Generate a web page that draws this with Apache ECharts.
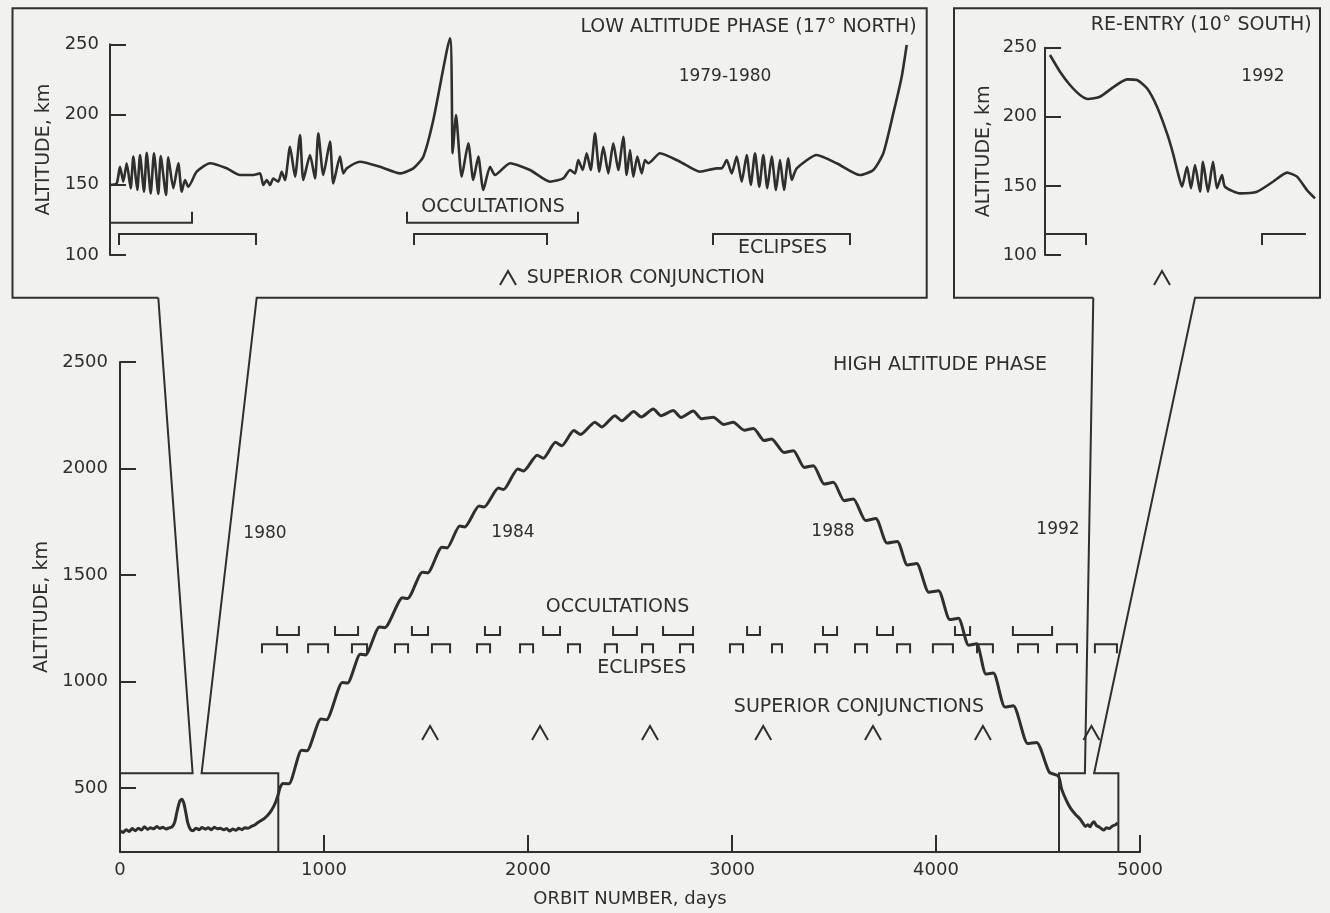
<!DOCTYPE html>
<html>
<head>
<meta charset="utf-8">
<script src="https://cdn.jsdelivr.net/npm/echarts@6/dist/echarts.min.js"></script>
<style>
html,body{margin:0;padding:0;background:#f1f1ef;}
#c{width:1330px;height:913px;}
</style>
</head>
<body>
<div id="c"></div>
<script>
// ---------------- DATA ----------------
const xTickLabels = [0, 1000, 2000, 3000, 4000, 5000];
const xTickMarks = [1000, 2000, 3000, 4000, 5000];
const yTickLabels = [500, 1000, 1500, 2000, 2500];

// main chart: [orbit number, altitude km]
const lowPhase = [[0,300],[15,292],[30,305],[45,296],[60,310],[75,300],[90,312],[105,303],[120,318],[135,306],[150,314],[165,309],[180,320],[195,310],[210,316],[225,308],[240,313],[255,318],[268,340],[280,392],[292,436],[302,448],[312,432],[322,388],[332,338],[345,306],[358,300],[372,312],[388,305],[402,315],[418,307],[432,314],[448,305],[462,316],[478,309],[492,312],[508,304],[522,310],[538,298],[552,308],[568,302],[582,311],[598,305],[612,314],[628,312],[644,320],[660,327],[676,338],[692,348],[708,358],[724,372],[740,392],[754,415],[766,442],[776,472]];
const highPhase = [[786,506],[800,522],[828,520],[890,678],[916,675],[985,824],[1012,821],[1090,996],[1115,993],[1178,1128],[1203,1125],[1272,1256],[1298,1253],[1385,1393],[1410,1390],[1482,1513],[1508,1510],[1578,1631],[1603,1627],[1665,1730],[1690,1726],[1760,1824],[1785,1819],[1855,1908],[1880,1901],[1950,1998],[1978,1988],[2045,2062],[2075,2048],[2135,2123],[2165,2107],[2225,2178],[2258,2160],[2328,2217],[2362,2195],[2426,2248],[2460,2224],[2518,2268],[2555,2242],[2614,2279],[2652,2248],[2712,2272],[2750,2240],[2810,2270],[2850,2234],[2908,2241],[2960,2207],[3006,2217],[3060,2180],[3105,2188],[3158,2131],[3194,2139],[3255,2075],[3301,2084],[3355,2005],[3399,2013],[3452,1927],[3497,1935],[3550,1849],[3595,1857],[3655,1756],[3705,1765],[3760,1650],[3810,1658],[3860,1547],[3905,1554],[3965,1419],[4012,1426],[4068,1291],[4110,1297],[4160,1171],[4199,1177],[4245,1035],[4281,1040],[4338,881],[4379,886],[4450,709],[4493,714],[4555,575],[4600,556]];
const reentryPhase = [[4616,495],[4640,440],[4660,405],[4685,375],[4706,355],[4720,335],[4732,320],[4745,328],[4755,318],[4765,334],[4775,342],[4785,326],[4798,318],[4810,310],[4822,303],[4835,314],[4850,310],[4865,322],[4880,328],[4890,337]];

const occultations = [[770,877],[1054,1167],[1431,1510],[1789,1863],[2074,2157],[2417,2534],[2662,2809],[3074,3137],[3446,3515],[3711,3789],[4093,4167],[4377,4569]];
const eclipses = [[696,819],[922,1020],[1137,1211],[1348,1412],[1529,1618],[1750,1814],[1961,2025],[2196,2255],[2377,2436],[2559,2613],[2745,2809],[2990,3054],[3196,3245],[3407,3466],[3603,3662],[3809,3873],[3985,4083],[4201,4279],[4402,4500],[4593,4691],[4779,4887]];
const superiorConjunctions = [1520, 2059, 2598, 3153, 3691, 4230, 4762];

// inset 1 (low altitude phase 1979-1980): [orbit, altitude km]
const lowInset = [[0,149.8],[6.7,151],[10,162.8],[13.3,152.2],[16.7,165.3],[20.7,147.5],[23.3,170],[27.3,146.3],[30,171.2],[34,145.1],[36.7,172.8],[40.7,143.9],[44,172.4],[48.3,143.4],[50.7,170.5],[56,142.7],[58.3,169.5],[63.3,147.5],[68.3,165.3],[71.7,145.1],[75,153.4],[78.3,148.6],[86.7,159.3],[100,165.3],[116.7,161.7],[130,156.9],[143.3,156.9],[150,158.1],[153.3,149.8],[156.7,153.4],[160,149.8],[163.3,154.5],[168.3,152.2],[171.7,159.3],[175,153.4],[180,177.1],[185,155.7],[190,185.4],[193.3,153.4],[200,171.2],[205,154.5],[208.3,186.6],[213.3,156.9],[220,180.7],[223.3,151],[230,170],[233.3,158.1],[236.7,161.7],[250,166.4],[270,162.8],[290,158.1],[303.3,161.7],[313.3,170],[323.3,196.1],[340,254.2],[342.7,172.4],[346,199.6],[351.7,155.7],[358.3,179.5],[363.3,153.4],[368.3,170],[373.3,146.3],[380,162.8],[385,156.9],[400,165.3],[420,160.5],[440,152.2],[453.3,154.5],[460,160.5],[465,158.1],[468.3,167.6],[472.7,160.5],[476.7,172.4],[480.7,160.5],[485,186.6],[489.3,159.3],[493.3,177.1],[498.3,158.1],[503.3,179.5],[508.3,160.5],[513.3,184.2],[516.7,156.9],[520,174.7],[523.3,155.7],[527.3,170],[531.7,158.1],[535,167.6],[538.3,165.3],[550,172.4],[570,166.4],[590,159.3],[606.7,161.7],[611.7,161.7],[616.7,167.6],[621.7,158.1],[626.7,170],[631.7,152.2],[636.7,171.2],[640.7,149.8],[645,172.4],[649.3,148.6],[653.3,171.2],[657.3,147.5],[661.7,170],[666,146.3],[670,167.6],[674,146.3],[678.3,168.8],[681.7,153.4],[686.7,161.7],[706.7,171.2],[726.7,165.3],[750,156.9],[763.3,160.5],[773.3,172.4],[783.3,200.8],[791.7,226.9],[796.7,249.5]];
const lowInsetOccultations = [[0,82,0,1],[297,468,1,1]];
const lowInsetEclipses = [[9,146,1,1],[304,437,1,1],[603,740,1,1]];
const lowInsetConjunction = [398];

// inset 2 (re-entry 1992): [orbit, altitude km]
const reentryInset = [[4605,244.7],[4615,232.6],[4625,223],[4635,215.8],[4643,212.9],[4655,214.5],[4668,221.3],[4682,227.1],[4692,226.6],[4702,220.6],[4712,207.3],[4722,188],[4728,173.6],[4733,159.1],[4737,149.4],[4742,163.9],[4746,148.3],[4750,165],[4755,145.8],[4758,167.5],[4763,145.8],[4768,167.5],[4772,148.3],[4777,157.9],[4780,149.4],[4795,144.6],[4812,145.8],[4828,153],[4842,159.6],[4852,156.7],[4862,147],[4870,141]];
const reentryInsetEclipses = [[4600,4641,0,1],[4817,4861,1,0]];
const reentryInsetConjunction = [4717];

// ---------------- STYLE / LAYOUT ----------------
const INK = '#2f2f2d';
const FONT = 'DejaVu Sans';
const BG = '#f1f1ef';
const plain = v => String(v);

const chart = echarts.init(document.getElementById('c'), null, {renderer: 'canvas'});

function bracket(level, tick, dir) {
  return function (params, api) {
    const a = api.coord([api.value(0), level]);
    const b = api.coord([api.value(1), level]);
    const lt = api.value(2), rt = api.value(3);
    const pts = [];
    if (lt !== 0) pts.push([a[0], a[1] + dir * tick]);
    pts.push(a, b);
    if (rt !== 0) pts.push([b[0], b[1] + dir * tick]);
    return {type: 'polyline', shape: {points: pts}, style: {stroke: INK, lineWidth: 2, fill: null}};
  };
}
function caret(level) {
  return function (params, api) {
    const p = api.coord([api.value(0), level]);
    return {type: 'polyline', shape: {points: [[p[0] - 8, p[1] + 7], [p[0], p[1] - 7], [p[0] + 8, p[1] + 7]]},
      style: {stroke: INK, lineWidth: 2, fill: null}};
  };
}

function yAxisBase(gi, extra) {
  return Object.assign({
    gridIndex: gi, type: 'value',
    axisLine: {show: true, lineStyle: {color: INK, width: 2}},
    axisTick: {show: true, inside: true, length: 16, lineStyle: {color: INK, width: 2}},
    splitLine: {show: false},
    name: 'ALTITUDE, km', nameLocation: 'middle',
    nameTextStyle: {fontSize: 19, color: INK, fontFamily: FONT}
  }, extra);
}

const option = {
  backgroundColor: BG,
  animation: false,
  textStyle: {fontFamily: FONT, color: INK},
  grid: [
    {left: 120, top: 362, width: 1020, height: 490, outerBoundsMode: 'none'},
    {left: 110, top: 44.3, width: 800, height: 210.7, outerBoundsMode: 'none'},
    {left: 1045, top: 47.7, width: 275, height: 207.3, outerBoundsMode: 'none'}
  ],
  xAxis: [
    {gridIndex: 0, type: 'value', min: 0, max: 5000, interval: 1000,
      axisLine: {show: true, lineStyle: {color: INK, width: 2}},
      axisTick: {show: true, inside: true, length: 17, customValues: xTickMarks, lineStyle: {color: INK, width: 2}},
      axisLabel: {customValues: xTickLabels, formatter: plain, fontSize: 18, color: INK, margin: 9, fontFamily: FONT},
      splitLine: {show: false},
      name: 'ORBIT NUMBER, days', nameLocation: 'middle', nameGap: 38,
      nameTextStyle: {fontSize: 18, color: INK, fontFamily: FONT}},
    {gridIndex: 1, type: 'value', min: 0, max: 800, show: false},
    {gridIndex: 2, type: 'value', min: 4600, max: 4875, show: false}
  ],
  yAxis: [
    yAxisBase(0, {min: 200, max: 2500, nameGap: 63,
      axisTick: {show: true, inside: true, length: 16, customValues: yTickLabels, lineStyle: {color: INK, width: 2}},
      axisLabel: {customValues: yTickLabels, formatter: plain, fontSize: 18, color: INK, margin: 12, fontFamily: FONT}}),
    yAxisBase(1, {min: 100, max: 250, interval: 50, nameGap: 52,
      axisLabel: {formatter: plain, fontSize: 18, color: INK, margin: 11, fontFamily: FONT}}),
    yAxisBase(2, {min: 100, max: 250, interval: 50, nameGap: 51,
      axisLabel: {formatter: plain, fontSize: 18, color: INK, margin: 8, fontFamily: FONT}})
  ],
  series: [
    {type: 'line', xAxisIndex: 0, yAxisIndex: 0, data: lowPhase.concat(highPhase, reentryPhase),
      showSymbol: false, smooth: 0.22, clip: false, lineStyle: {color: INK, width: 3}, z: 5},
    {type: 'custom', xAxisIndex: 0, yAxisIndex: 0, data: occultations, renderItem: bracket(1219, 9, -1), clip: false, z: 4},
    {type: 'custom', xAxisIndex: 0, yAxisIndex: 0, data: eclipses, renderItem: bracket(1175, 9, 1), clip: false, z: 4},
    {type: 'custom', xAxisIndex: 0, yAxisIndex: 0, data: superiorConjunctions, renderItem: caret(759), clip: false, z: 4},

    {type: 'line', xAxisIndex: 1, yAxisIndex: 1, data: lowInset, showSymbol: false, smooth: 0.2, clip: false,
      lineStyle: {color: INK, width: 2.6}, z: 5},
    {type: 'custom', xAxisIndex: 1, yAxisIndex: 1, data: lowInsetOccultations, renderItem: bracket(123, 11, -1), clip: false},
    {type: 'custom', xAxisIndex: 1, yAxisIndex: 1, data: lowInsetEclipses, renderItem: bracket(115, 11, 1), clip: false},
    {type: 'custom', xAxisIndex: 1, yAxisIndex: 1, data: lowInsetConjunction, renderItem: caret(83.6), clip: false},

    {type: 'line', xAxisIndex: 2, yAxisIndex: 2, data: reentryInset, showSymbol: false, smooth: 0.2, clip: false,
      lineStyle: {color: INK, width: 2.6}, z: 5},
    {type: 'custom', xAxisIndex: 2, yAxisIndex: 2, data: reentryInsetEclipses, renderItem: bracket(115.2, 11, 1), clip: false},
    {type: 'custom', xAxisIndex: 2, yAxisIndex: 2, data: reentryInsetConjunction, renderItem: caret(83.4), clip: false}
  ]
};
chart.setOption(option);

// ---------- inset frames and zoom funnels (layout) ----------
const insetFrames = [
  {left: 12.5, top: 8.3, right: 926.7, bottom: 297.7, neck: [158.3, 256.7]},
  {left: 954, top: 8.3, right: 1320, bottom: 297.7, neck: [1093.3, 1195]}
];
const zoomBoxes = [
  {x: [0, 776], top: 570, neck: [356, 400]},
  {x: [4603, 4894], top: 570, neck: [4730, 4775]}
];
function px(v) { return chart.convertToPixel({xAxisIndex: 0, yAxisIndex: 0}, v); }
const gfx = [];
const lineStyle = {stroke: INK, lineWidth: 2, fill: null};
for (let i = 0; i < 2; i++) {
  const f = insetFrames[i], b = zoomBoxes[i];
  const tl = px([b.x[0], b.top]), tr = px([b.x[1], b.top]);
  const bl = px([b.x[0], 200]), br = px([b.x[1], 200]);
  const nl = px([b.neck[0], b.top]), nr = px([b.neck[1], b.top]);
  gfx.push({type: 'polyline', z: 10, shape: {points: [[f.neck[0], f.bottom], [f.left, f.bottom], [f.left, f.top], [f.right, f.top], [f.right, f.bottom], [f.neck[1], f.bottom], nr, tr, br]}, style: lineStyle});
  gfx.push({type: 'polyline', z: 10, shape: {points: [[f.neck[0], f.bottom], nl, tl, bl]}, style: lineStyle});
}
const texts = [
  ['HIGH ALTITUDE PHASE', 940, 365, 19, 'center'],
  ['OCCULTATIONS', 617.5, 607, 19, 'center'],
  ['ECLIPSES', 641.7, 668, 19, 'center'],
  ['SUPERIOR CONJUNCTIONS', 859, 707, 19, 'center'],
  ['1980', 265, 534, 17, 'center'],
  ['1984', 513, 533, 17, 'center'],
  ['1988', 833, 532, 17, 'center'],
  ['1992', 1058, 530, 17, 'center'],
  ['LOW ALTITUDE PHASE (17° NORTH)', 916.7, 26.7, 19, 'right'],
  ['1979-1980', 725, 77, 17, 'center'],
  ['OCCULTATIONS', 493, 206.7, 19, 'center'],
  ['ECLIPSES', 782.5, 248.3, 19, 'center'],
  ['SUPERIOR CONJUNCTION', 526.7, 278, 19, 'left'],
  ['RE-ENTRY (10° SOUTH)', 1311.7, 25, 19, 'right'],
  ['1992', 1263, 77, 17, 'center']
];
texts.forEach(t => gfx.push({type: 'text', z: 10, style: {text: t[0], x: t[1], y: t[2], fontSize: t[3], fontFamily: FONT, fill: INK, align: t[4], verticalAlign: 'middle'}}));
chart.setOption({graphic: gfx});
</script>
</body>
</html>
